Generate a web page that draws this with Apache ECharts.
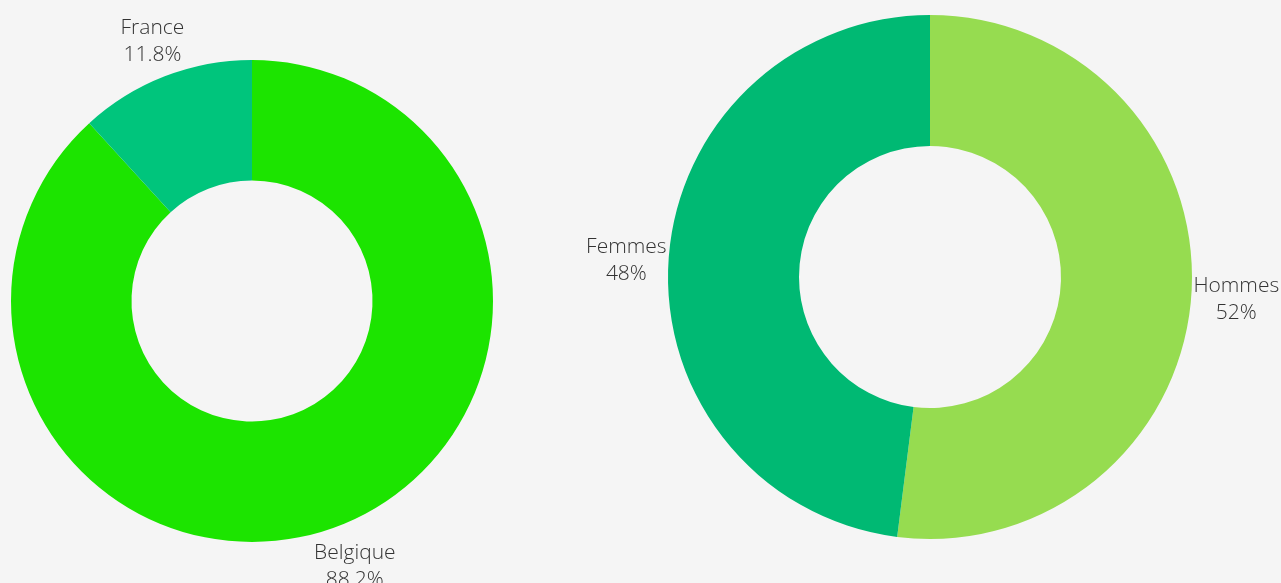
<!DOCTYPE html>
<html>
<head>
<meta charset="utf-8">
<style>
  html, body { margin: 0; padding: 0; background: #f5f5f5; }
  #chart { width: 1281px; height: 583px; }
</style>
<script src="https://cdn.jsdelivr.net/npm/echarts@6/dist/echarts.min.js"></script>
</head>
<body>
<div id="chart"></div>
<script>
// pays
const paysNames = ['Belgique', 'France']
const paysValues = [88.2, 11.8]
const paysColors = ['#1ce400', '#00c57c']

// genre
const genreNames = ['Hommes', 'Femmes']
const genreValues = [52, 48]
const genreColors = ['#96dc50', '#00b973']

const leftCenter = [252, 301]
const rightCenter = [930, 277]

// place label box outside the ring, along the slice's mid angle
function outsideLabel(center) {
  return function (params) {
    const pts = params.labelLinePoints
    if (!pts) return {}
    const p = pts[0]
    let ux = p[0] - center[0]
    let uy = p[1] - center[1]
    const len = Math.sqrt(ux * ux + uy * uy) || 1
    ux /= len
    uy /= len
    const w = params.labelRect.width
    const h = params.labelRect.height
    return {
      x: p[0] + ux * (w / 2 + 2),
      y: p[1] + uy * (h / 2 + 14) + 3,
      align: 'center',
      verticalAlign: 'middle'
    }
  }
}

function buildData(names, values, colors) {
  return names.map((n, i) => ({ name: n, value: values[i], itemStyle: { color: colors[i] } }))
}

function pieSeries(names, values, colors, center, radius) {
  return {
    type: 'pie',
    center: center,
    radius: radius,
    startAngle: 90,
    clockwise: true,
    avoidLabelOverlap: false,
    silent: true,
    label: {
      show: true,
      position: 'outside',
      formatter: p => p.name + '\n' + (+p.percent.toFixed(1)) + '%',
      fontFamily: 'Open Sans',
      fontWeight: 300,
      fontSize: 21,
      lineHeight: 27,
      color: '#333'
    },
    labelLine: { show: true, length: 0, length2: 0, lineStyle: { opacity: 0 } },
    labelLayout: outsideLabel(center),
    data: buildData(names, values, colors)
  }
}

const chart = echarts.init(document.getElementById('chart'))
chart.setOption({
  backgroundColor: '#f5f5f5',
  animation: false,
  series: [
    pieSeries(paysNames, paysValues, paysColors, leftCenter, [120.5, 241]),
    pieSeries(genreNames, genreValues, genreColors, rightCenter, [131, 262])
  ]
})
</script>
</body>
</html>
